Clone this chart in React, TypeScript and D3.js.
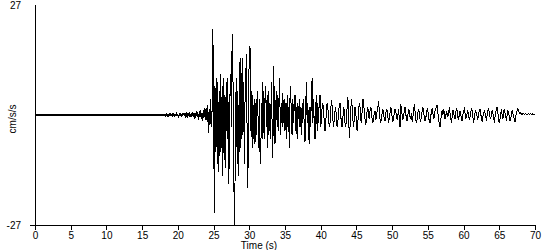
import React from "react";
import * as d3 from "d3";

// Pre-event quiet record, 0 .. 18 s every 0.5 s (cm/s/s)
const preEventStart = 0;
const preEventStep = 0.5;
const preEventAccel = [
  0, 0, 0, 0, 0, 0, 0, 0, 0, 0,
  0, 0, 0, 0, 0, 0, 0, 0, 0, 0,
  0, 0, 0, 0, 0, 0, 0, 0, 0, 0,
  0, 0, 0, 0, 0, 0, 0,
];

// Main record, 17.0 .. 70.0 s every 0.1 s (cm/s/s)
const recordStart = 17;
const recordStep = 0.1;
const recordAccel = [
  // 17
  0.1, -0.1, 0.1, -0.1, 0.1, -0.1, 0.1, -0.1, 0.1, -0.1,
  // 18
  0.15, -0.1, 0.3, -0.2, 0.15, -0.3, 0.2, -0.15, 0.3, -0.2,
  // 19
  0.3, -0.1, 0.25, -0.3, 0.1, -0.3, 0.2, -0.1, 0.3, -0.2,
  // 20
  0.1, -0.4, 0.3, -0.2, 0.4, -0.5, 0.3, -0.1, 0.5, -0.3,
  // 21
  0.5, -0.3, 0.2, -0.7, 0.4, -0.2, 0.7, -0.5, 0.3, -0.4,
  // 22
  0.8, -0.3, 0.5, -0.9, 0.4, -0.6, 1.0, -0.4, 0.6, -1.1,
  // 23
  0.9, -0.5, 1.3, -0.9, 0.5, -1.4, 1.1, -0.6, 1.6, -1.2,
  // 24
  1.7, -1.8, 2.4, -4.5, 1.5, -2.5, 4.0, -3.0, 1.5, 21.0,
  // 25
  4, -24, 7, -9, 9, -12, 8, -14, 6, -10,
  // 26
  10, -8, 7, -15, 9, -11, 5, -13, 8, -6,
  // 27
  9, -17, -11, 5, 10, -3, 20, 12, -6, -27,
  // 28
  -17, 3, 9, -12, 6, -15, 13, -9, 14, -6,
  // 29
  14, -5, 8, -12, 3, 9, 15, -6, -18, 4,
  // 30
  16, 17, -4, 6, -8, 5, -6, 4, -7, 3,
  // 31
  -5, 6, 2, -8, 4, -9, -12, 3, -6, 8,
  // 32
  -2, -6, 4, 7, -3, 5, -8, 6, -4, 3,
  // 33
  -6, 8, -3, -10.5, 12, 4, -7, 2, 6, -3,
  // 34
  5, -4, 9, 2, -5, 3, -3, 5.4, -2, 4,
  // 35
  -4, 3, -6, 5, -3, 2, -8, 4, 7, -3,
  // 36
  -5, 4, -2, 3, 5, -4, 2, -6, 3, -1,
  // 37
  4, -3, 2, -5, 3, -2, 4, -4, -6.6, 2,
  // 38
  8, -2, 3, -5, -7, 2, -3, 6, 9, -2,
  // 39
  4, -3, -6, 2, 5, -4, 3, -2, 4, 5,
  // 40
  -3, -1, 2, 3, 1, -2, -4, -2, 1, 3,
  // 41
  2, -1, -3, -2, 1, 3.7, 2, -1, -3, -1,
  // 42
  1, 2, -1, -3, -2, 1, 2, 3, 0, -2,
  // 43
  -3, -1, 2, 1, -2, -3, -1, 2, 4.5, 1,
  // 44
  -5.6, -3, 1, 4, 2, -1, -3, -1, 2, 1,
  // 45
  -2, -4, -2, 1, 3, 2, -1, -2, 1, 4,
  // 46
  3, 1, -1, -2.5, -1, 1, 2, 0, -1, 1,
  // 47
  2, 1, -1, -2, -1, 0.5, 1, -1.2, -0.5, 1,
  // 48
  2, 3.4, 1, -1, -2, -1, 0.5, 1.5, 0.5, -1,
  // 49
  -1.5, 0, 1.5, 1, -0.5, -1.5, -1, 0.5, 2, 1,
  // 50
  -0.5, -1.5, -1, 0.5, 1.5, 1, -0.5, -1, 0, 1.5,
  // 51
  -1, -3, 2.7, 1.5, 0, -1, -0.5, 1, 2, 0.5,
  // 52
  -1, -1.5, 0, 1.5, 1, -0.5, -1, 0.5, -1.7, -0.5,
  // 53
  1, 2.7, 1, -1, -2, -1, 0.5, 1.5, 0.5, -1,
  // 54
  -1.5, -0.5, 1, 2, 1, -0.5, -1.5, -1, 0.5, 1.5,
  // 55
  1, -0.5, -1.5, -2, -0.5, 1, 1.5, 0.5, -1, -0.5,
  // 56
  1, 1.5, 2, 2.5, 0.5, -1, -2, -3, -1.5, 0.5,
  // 57
  1, 0, 1.5, 0.5, -1, -0.5, 1, 0.5, -0.5, 1,
  // 58
  1.5, 0.5, -1, -1.5, -0.5, 1, 1, -0.5, -1, 0.5,
  // 59
  1.5, 1, -0.5, -1, 0, 1, 0.5, -1, -1.5, 0,
  // 60
  1, 1.5, 0.5, -1, -0.5, 0.5, 1, 0, -1, -0.5,
  // 61
  0.5, 1.5, 1, -0.5, -1.5, -1, 0.5, 1, 0.5, -0.5,
  // 62
  -1, 0, 1, 1.5, 0.5, -1, -1.5, -0.5, 0.5, 1,
  // 63
  0.5, -0.5, -1, 0, 1, 1.5, 0.5, -0.5, -1, 0.5,
  // 64
  1, 0.5, -1, -1.5, -0.5, 0.5, 1.5, 2, 0.5, -1,
  // 65
  -2, -1, 0.5, 1, 0, -1, 0.5, 1.5, 0.5, -0.5,
  // 66
  -1, 0, 1, 0.5, -0.5, -1.5, -1, 0.5, 1, 0.5,
  // 67
  -0.5, -1, -1.7, -0.5, 0.5, 1, 1.5, 1, 0.5, 0.3,
  // 68
  0.5, 0.2, 0.4, 0.2, 0.3, 0.2, 0.2, 0.3, 0.2, 0.2,
  // 69
  0.2, 0.3, 0.2, 0.2, 0.3, 0.2, 0.2, 0.3, 0.2, 0.2,
  // 70
  0.2,
];

const xTicks = [0, 5, 10, 15, 20, 25, 30, 35, 40, 45, 50, 55, 60, 65, 70];
const yTickLabels = [27, -27];
const xTitle = "Time (s)";
const yTitle = "cm/s/s";

export default function App() {
  const width = 550;
  const height = 250;
  const x = d3.scaleLinear().domain([0, 70]).range([35, 535]);
  const y = d3.scaleLinear().domain([-27, 27]).range([225, 5]);

  const prePoints: [number, number][] = preEventAccel.map((v, i) => [
    preEventStart + i * preEventStep,
    v,
  ]);
  const points: [number, number][] = recordAccel.map((v, i) => [
    recordStart + i * recordStep,
    v,
  ]);

  const line = d3
    .line<[number, number]>()
    .x((d) => x(d[0]))
    .y((d) => y(d[1]));

  const font = "Arial, 'Liberation Sans', sans-serif";

  return (
    <svg
      width={width}
      height={height}
      style={{ position: "absolute", left: 0, top: 0, background: "#fff" }}
      fontFamily={font}
      fontSize={10}
    >
      <rect x={0} y={0} width={width} height={height} fill="#fff" />
      {/* quiet pre-event trace */}
      <path
        d={line(prePoints) || ""}
        fill="none"
        stroke="#000"
        strokeWidth={2}
        shapeRendering="crispEdges"
      />
      {/* trace */}
      <path
        d={line(points) || ""}
        fill="none"
        stroke="#000"
        strokeWidth={1}
        shapeRendering="crispEdges"
      />
      {/* y axis */}
      <line x1={x(0) + 0.5} x2={x(0) + 0.5} y1={y(27)} y2={y(-27)} stroke="#000" shapeRendering="crispEdges" />
      {/* x axis */}
      <line x1={x(0) - 5} x2={x(70) + 1} y1={y(-27) + 0.5} y2={y(-27) + 0.5} stroke="#000" shapeRendering="crispEdges" />
      {xTicks.map((t) => (
        <g key={t}>
          <line
            x1={Math.round(x(t)) + 0.5}
            x2={Math.round(x(t)) + 0.5}
            y1={y(-27)}
            y2={y(-27) + 5}
            stroke="#000"
            shapeRendering="crispEdges"
          />
          <text x={x(t) + 0.5} y={239} textAnchor="middle" fill="#000">
            {t}
          </text>
        </g>
      ))}
      {yTickLabels.map((v) => (
        <text key={v} x={21} y={y(v) + 4} textAnchor="end" fill="#000">
          {v}
        </text>
      ))}
      <text x={259} y={248.5} textAnchor="middle" fill="#000">
        {xTitle}
      </text>
      <text
        transform={`translate(16, ${y(0) + 4}) rotate(-90)`}
        textAnchor="middle"
        fill="#000"
      >
        {yTitle}
      </text>
    </svg>
  );
}
